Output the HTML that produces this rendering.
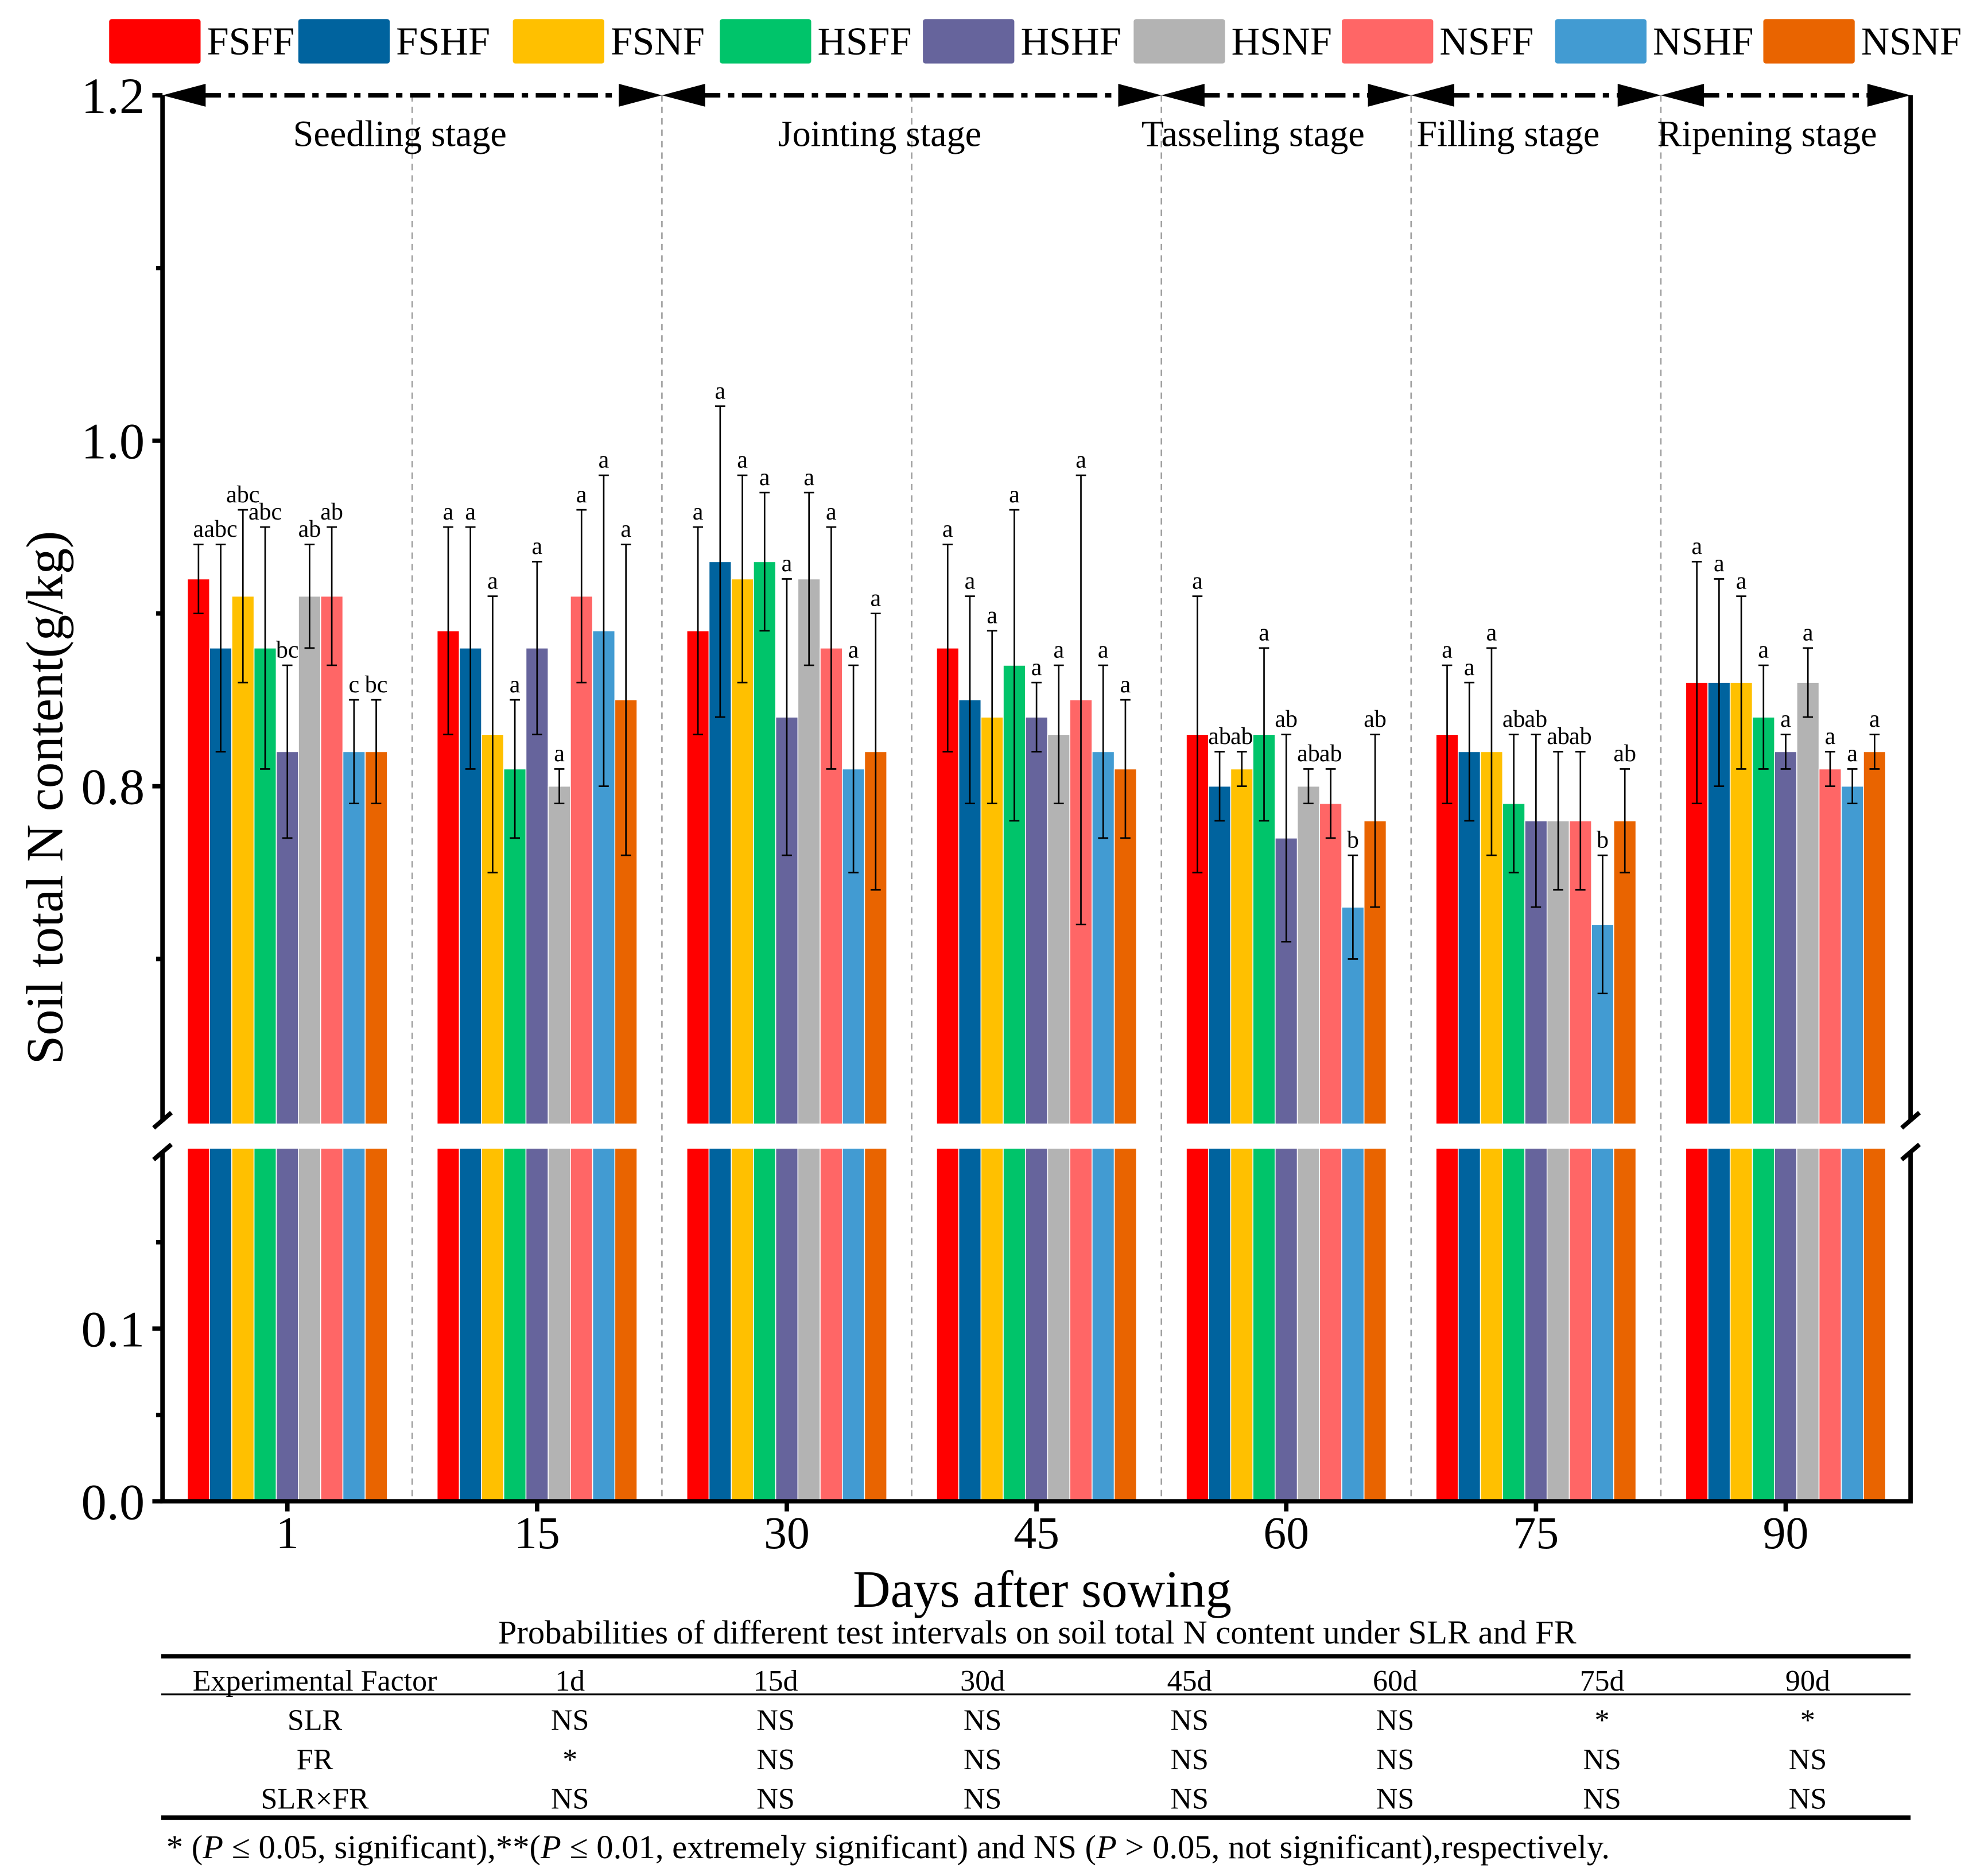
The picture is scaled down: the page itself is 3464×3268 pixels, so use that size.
<!DOCTYPE html>
<html><head><meta charset="utf-8"><style>html,body{margin:0;padding:0;background:#fff}svg{display:block}</style></head>
<body>
<svg id="chart" width="3464" height="3268" viewBox="0 0 1566 1477" preserveAspectRatio="none" xmlns="http://www.w3.org/2000/svg" font-family="Liberation Serif, serif"></svg>
<script>
const days = ["1","15","30","45","60","75","90"];
const series = ["FSFF","FSHF","FSNF","HSFF","HSHF","HSNF","NSFF","NSHF","NSNF"];
const colors = ["#ff0000","#00639e","#ffc000","#00c46a","#66649c","#b3b3b3","#ff6666","#429bd2","#e96400"];
const values = [
 [0.92,0.88,0.91,0.88,0.82,0.91,0.91,0.82,0.82],
 [0.89,0.88,0.83,0.81,0.88,0.80,0.91,0.89,0.85],
 [0.89,0.93,0.92,0.93,0.84,0.92,0.88,0.81,0.82],
 [0.88,0.85,0.84,0.87,0.84,0.83,0.85,0.82,0.81],
 [0.83,0.80,0.81,0.83,0.77,0.80,0.79,0.73,0.78],
 [0.83,0.82,0.82,0.79,0.78,0.78,0.78,0.72,0.78],
 [0.86,0.86,0.86,0.84,0.82,0.86,0.81,0.80,0.82]];
const errors = [
 [0.02,0.06,0.05,0.07,0.05,0.03,0.04,0.03,0.03],
 [0.06,0.07,0.08,0.04,0.05,0.01,0.05,0.09,0.09],
 [0.06,0.09,0.06,0.04,0.08,0.05,0.07,0.06,0.08],
 [0.06,0.06,0.05,0.09,0.02,0.04,0.13,0.05,0.04],
 [0.08,0.02,0.01,0.05,0.06,0.01,0.02,0.03,0.05],
 [0.04,0.04,0.06,0.04,0.05,0.04,0.04,0.04,0.03],
 [0.07,0.06,0.05,0.03,0.01,0.02,0.01,0.01,0.01]];
const letters = [
 ["a","abc","abc","abc","bc","ab","ab","c","bc"],
 ["a","a","a","a","a","a","a","a","a"],
 ["a","a","a","a","a","a","a","a","a"],
 ["a","a","a","a","a","a","a","a","a"],
 ["a","ab","ab","a","ab","ab","ab","b","ab"],
 ["a","a","a","ab","ab","ab","ab","b","ab"],
 ["a","a","a","a","a","a","a","a","a"]];
const stages = ["Seedling stage","Jointing stage","Tasseling stage","Filling stage","Ripening stage"];
const stageSpan = [[0,2],[2,4],[4,5],[5,6],[6,7]];
const stageLabelX = [315,693,987,1188,1392];
const upperTicks = [0.8,1.0,1.2];
const lowerTicks = [0.0,0.1];
const tableCols = ["1d","15d","30d","45d","60d","75d","90d"];
const tableRows = [["SLR","NS","NS","NS","NS","NS","*","*"],["FR","*","NS","NS","NS","NS","NS","NS"],["SLR×FR","NS","NS","NS","NS","NS","NS","NS"]];

const svg = document.getElementById('chart');
const NS = "http://www.w3.org/2000/svg";
function mk(tag, attrs, parent, text){const e=document.createElementNS(NS,tag);for(const k in attrs)e.setAttribute(k,attrs[k]);if(text!==undefined)e.textContent=text;(parent||svg).appendChild(e);return e;}
const X0=128, X1=1505, groupW=(X1-X0)/days.length, barW=17.5;
const yUp = v => 619 - (v-0.8)*1360;
const yLo = v => 1182 - v*1360;
const UPB=885, LOT=904;
const gx = i => X0 + groupW*(i+0.5);
const bx = (i,j) => gx(i) - barW*series.length/2 + j*barW;

for(let i=1;i<days.length;i++){const s=mk('line',{x1:X0+groupW*i,x2:X0+groupW*i,y1:75,y2:1182,stroke:'#a0a0a0','stroke-width':1.2,'stroke-dasharray':'5,4'});
}

days.forEach((d,i)=>{series.forEach((s,j)=>{
 const v=values[i][j], e=errors[i][j], x=bx(i,j);
 const b=mk('rect',{x:x,y:yUp(v),width:barW,height:UPB-yUp(v),fill:colors[j],stroke:'#fff','stroke-width':0.7});
 
 const b2=mk('rect',{x:x,y:LOT,width:barW,height:1182-LOT,fill:colors[j],stroke:'#fff','stroke-width':0.7});
 
 const cx=x+barW/2, yt=yUp(v+e), yb=yUp(v-e);
 const g=mk('path',{d:`M${cx},${yt}V${yb}M${cx-4},${yt}H${cx+4}M${cx-4},${yb}H${cx+4}`,stroke:'#000','stroke-width':1.2,fill:'none'});
 
 const t=mk('text',{x:cx,y:yt-6,'font-size':19,'text-anchor':'middle'},svg,letters[i][j]);
 
});});

const ax=mk('path',{d:`M${X0},75V882M${X0},907V1182H${X1}V907M${X1},882V75`,stroke:'#000','stroke-width':3.5,fill:'none'});

[X0,X1].forEach(x=>{const br=mk('path',{d:`M${x-7},${888}L${x+7},${876}M${x-7},${913}L${x+7},${901}`,stroke:'#000','stroke-width':3.5});
});
upperTicks.forEach(v=>{mk('line',{x1:X0-8,x2:X0,y1:yUp(v),y2:yUp(v),stroke:'#000','stroke-width':3.5});
 const t=mk('text',{x:X0-14,y:yUp(v)+14,'font-size':40,'text-anchor':'end'},svg,v.toFixed(1));
 });
[1.1,0.9,0.7].forEach(v=>mk('line',{x1:X0-5,x2:X0,y1:yUp(v),y2:yUp(v),stroke:'#000','stroke-width':3.5}));
lowerTicks.forEach(v=>{mk('line',{x1:X0-8,x2:X0,y1:yLo(v),y2:yLo(v),stroke:'#000','stroke-width':3.5});
 const t=mk('text',{x:X0-14,y:yLo(v)+14,'font-size':40,'text-anchor':'end'},svg,v.toFixed(1));
 });
[0.05,0.15].forEach(v=>mk('line',{x1:X0-5,x2:X0,y1:yLo(v),y2:yLo(v),stroke:'#000','stroke-width':3.5}));
days.forEach((d,i)=>{mk('line',{x1:gx(i),x2:gx(i),y1:1182,y2:1190,stroke:'#000','stroke-width':3.5});
 const t=mk('text',{x:gx(i),y:1219,'font-size':36,'text-anchor':'middle'},svg,d);
 });
let t=mk('text',{x:821,y:1265,'font-size':41,'text-anchor':'middle'},svg,'Days after sowing');

t=mk('text',{x:0,y:0,'font-size':41,'text-anchor':'middle',transform:'translate(49,628) rotate(-90)'},svg,'Soil total N content(g/kg)');


stages.forEach((s,k)=>{const a=X0+groupW*stageSpan[k][0], b=X0+groupW*stageSpan[k][1];
 const l=mk('line',{x1:a+30,x2:b-30,y1:75,y2:75,stroke:'#000','stroke-width':3.5,'stroke-dasharray':'16,6,5,6'});
 
 mk('path',{d:`M${a},75L${a+34},66V84Z M${b},75L${b-34},66V84Z`,fill:'#000'});
 const tt=mk('text',{x:stageLabelX[k],y:115,'font-size':29,'text-anchor':'middle'},svg,s);
 });

const lx=[86,235,404,567,727,893,1057,1225,1389];
series.forEach((s,j)=>{const r=mk('rect',{x:lx[j],y:15,width:72,height:35,rx:2,fill:colors[j]});
 
 const tt=mk('text',{x:lx[j]+77,y:43,'font-size':31},svg,s);
 });

t=mk('text',{x:817,y:1294,'font-size':26.5,'text-anchor':'middle'},svg,'Probabilities of different test intervals on soil total N content under SLR and FR');

mk('line',{x1:127,x2:1505,y1:1304,y2:1304,stroke:'#000','stroke-width':3.5});
mk('line',{x1:127,x2:1505,y1:1334,y2:1334,stroke:'#000','stroke-width':1.5});
mk('line',{x1:127,x2:1505,y1:1431,y2:1431,stroke:'#000','stroke-width':3.5});
const colX=[248,449,611,774,937,1099,1262,1424];
t=mk('text',{x:colX[0],y:1331,'font-size':23.5,'text-anchor':'middle'},svg,'Experimental Factor');

tableCols.forEach((c,i)=>{const h=mk('text',{x:colX[i+1],y:1331,'font-size':23.5,'text-anchor':'middle'},svg,c);
 });
tableRows.forEach((r,ri)=>r.forEach((c,ci)=>{const h=mk('text',{x:colX[ci],y:1362+ri*31,'font-size':23.5,'text-anchor':'middle'},svg,c);
 }));
t=mk('text',{x:131,y:1463,'font-size':26.5},svg,'');
t.innerHTML='* (<tspan font-style="italic">P</tspan> ≤ 0.05, significant),**(<tspan font-style="italic">P</tspan> ≤ 0.01, extremely significant) and NS (<tspan font-style="italic">P</tspan> &gt; 0.05, not significant),respectively.';

</script>
</body></html>
